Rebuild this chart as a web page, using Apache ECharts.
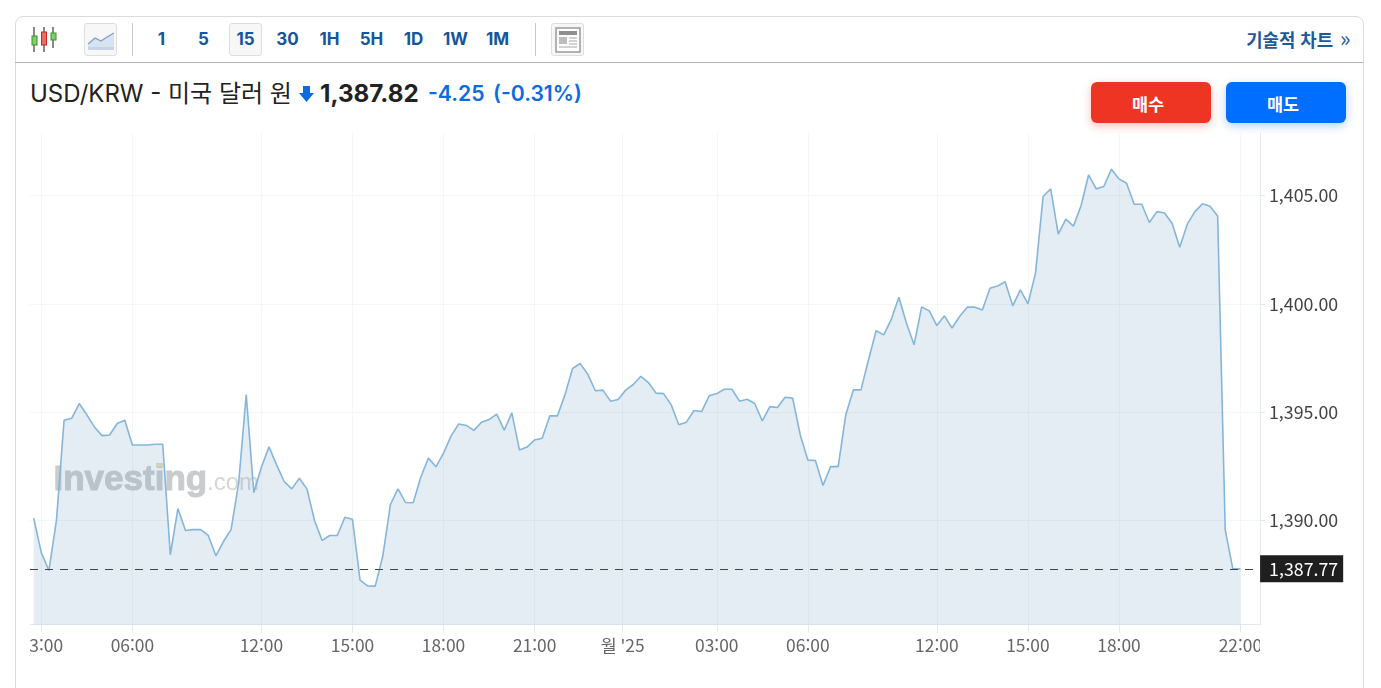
<!DOCTYPE html>
<html lang="ko"><head><meta charset="utf-8">
<script src="https://cdn.jsdelivr.net/npm/echarts@6/dist/echarts.min.js"></script>
<style>
html,body{margin:0;padding:0;background:#fff;width:1381px;height:688px;overflow:hidden;font-family:Inter,"Noto Sans CJK KR",sans-serif}
.abs{position:absolute;white-space:nowrap}
#card{position:absolute;left:15px;top:16px;width:1347px;height:700px;border:1px solid #dcdcdc;border-radius:8px;box-sizing:content-box}
#hline{position:absolute;left:15px;top:62px;width:1348px;height:1px;background:#b4b4b4}
.sep{position:absolute;top:23px;width:1px;height:33px;background:#c8c8c8}
.box{position:absolute;top:23px;height:31px;width:31px;border:1px solid #dedede;border-radius:3px;background:#f7f7f7}
.iv{position:absolute;top:28px;margin-left:-0.5px;font:700 17px/22px Inter,"Noto Sans CJK KR",sans-serif;color:#15569b;text-align:center;width:40px}
.btn{position:absolute;top:82px;width:120px;height:41px;border-radius:6px;color:#fff;font:700 17.5px/43px "Noto Sans CJK KR",sans-serif;text-align:center;text-indent:-6px}
#chart{position:absolute;left:30px;top:125px;width:1314px;height:540px}
#clip{position:absolute;left:1260px;top:630px;width:84px;height:30px;background:#fff}
</style></head><body>
<div id="card"></div><div id="hline"></div>
<svg class="abs" style="left:28px;top:22px" width="32" height="34"><g stroke="#8a8a8a" stroke-width="2"><path d="M6 5V30M16 5V30M25 5V26"/></g><rect x="4" y="14" width="5" height="9" fill="#7fd06a" stroke="#3e8f2e"/><rect x="13.500" y="10" width="5" height="13" fill="#ef6a62" stroke="#c62828"/><rect x="23" y="11" width="5" height="7" fill="#7fd06a" stroke="#3e8f2e"/></svg>
<div class="box" style="left:84px"></div>
<svg class="abs" style="left:87px;top:30px" width="28" height="22"><path d="M1 14L8 8L14 11L20 7L27 3V20H1Z" fill="#d8e3f2"/><path d="M1 14L8 8L14 11L20 7L27 3" fill="none" stroke="#7f9fc6" stroke-width="1.300"/><rect x="1" y="17" width="26" height="3" fill="#c6d3e6"/></svg>
<div class="sep" style="left:132px"></div>
<div class="box" style="left:229px"></div>
<div class="iv" style="left:142px">1</div><div class="iv" style="left:184px">5</div><div class="iv" style="left:226px">15</div><div class="iv" style="left:268px">30</div><div class="iv" style="left:310px">1H</div><div class="iv" style="left:352px">5H</div><div class="iv" style="left:394px">1D</div><div class="iv" style="left:436px">1W</div><div class="iv" style="left:478px">1M</div>
<div class="sep" style="left:535px"></div>
<div class="box" style="left:551px"></div>
<svg class="abs" style="left:555px;top:27px" width="26" height="26"><rect x="1" y="1" width="24" height="24" fill="#fff" stroke="#9a9a9a" stroke-width="1.500"/><rect x="4" y="4" width="18" height="4" fill="#8f8f8f"/><rect x="4" y="10" width="8" height="7" fill="#bdbdbd"/><path d="M14 11H22M14 14H22M14 17H22M4 20H22" stroke="#a8a8a8" stroke-width="1.200"/></svg>
<div class="abs" style="right:48px;top:27px;font:700 17.8px/24px 'Noto Sans CJK KR',sans-serif;color:#1c5a9c">기술적 차트</div>
<div class="abs" style="left:1340px;top:25px;font:400 22px/24px 'Noto Sans CJK KR',sans-serif;color:#1c5a9c">»</div>
<div class="abs" style="left:30px;top:79px;font:400 24px/30px Inter,'Noto Sans CJK KR',sans-serif;color:#222">USD/KRW - 미국 달러 원</div>
<svg class="abs" style="left:298px;top:85px" width="17" height="18"><path d="M5 1H12V8H16L8.500 17L1 8H5Z" fill="#0d6be0"/></svg>
<div class="abs" style="left:320px;top:79px;font:700 24.2px/30px Inter,'Noto Sans CJK KR',sans-serif;color:#222">1,387.82</div>
<div class="abs" style="left:428px;top:78px;font:600 21.2px/30px Inter,'Noto Sans CJK KR',sans-serif;color:#0d6be0">-4.25</div>
<div class="abs" style="left:493px;top:78px;font:600 21.2px/30px Inter,'Noto Sans CJK KR',sans-serif;color:#0d6be0">(-0.31%)</div>
<div class="btn" style="left:1091px;background:#ee3524;box-shadow:0 3px 10px rgba(238,53,36,.3)">매수</div>
<div class="btn" style="left:1226px;background:#006eff;box-shadow:0 3px 10px rgba(0,110,255,.3)">매도</div>
<div id="chart"></div>
<div id="clip"></div>
<script>
const priceValues = [
1390.11,1388.52,1387.69,1390.03,1394.63,1394.72,1395.40,1394.88,1394.32,1393.92,
1393.95,1394.48,1394.63,1393.49,1393.49,1393.49,1393.52,1393.52,1388.42,1390.55,
1389.54,1389.58,1389.58,1389.31,1388.37,1389.03,1389.58,1391.72,1395.82,1391.29,
1392.46,1393.40,1392.57,1391.80,1391.46,1391.95,1391.46,1390.00,1389.08,1389.31,
1389.31,1390.15,1390.06,1387.25,1386.98,1386.97,1388.37,1390.74,1391.46,1390.83,
1390.82,1392.00,1392.88,1392.48,1393.11,1393.91,1394.46,1394.39,1394.16,1394.54,
1394.66,1394.91,1394.17,1394.97,1393.26,1393.39,1393.72,1393.80,1394.83,1394.83,
1395.80,1397.02,1397.25,1396.76,1395.99,1396.02,1395.51,1395.59,1396.02,1396.28,
1396.66,1396.37,1395.88,1395.86,1395.34,1394.42,1394.54,1395.08,1395.03,1395.76,
1395.86,1396.06,1396.06,1395.51,1395.60,1395.40,1394.60,1395.26,1395.22,1395.69,
1395.65,1393.96,1392.79,1392.77,1391.62,1392.49,1392.49,1394.88,1396.03,1396.03,
1397.42,1398.76,1398.57,1399.29,1400.31,1399.11,1398.11,1399.86,1399.68,1399.00,
1399.45,1398.89,1399.42,1399.85,1399.85,1399.72,1400.72,1400.83,1401.02,1399.91,
1400.65,1400.00,1401.42,1404.96,1405.31,1403.22,1403.91,1403.59,1404.53,1405.96,
1405.31,1405.42,1406.22,1405.77,1405.57,1404.60,1404.60,1403.76,1404.26,1404.20,
1403.72,1402.62,1403.68,1404.26,1404.62,1404.51,1404.06,1389.57,1387.77,1387.77];
const tickIndex = [1,13,30,42,54,66,77.6,90,102,119,131,143,159];
const tickLabels = ["03:00","06:00","12:00","15:00","18:00","21:00","월 '25","03:00","06:00","12:00","15:00","18:00","22:00"];
const priceTicks = [1390,1395,1400,1405];
const currentPrice = 1387.77;

const lineData = priceValues.map((v,i)=>[i,v]);
const labelByIndex = new Map(tickIndex.map((t,i)=>[t,tickLabels[i]]));
const axisFont = '"Noto Sans CJK KR","Noto Sans",sans-serif';
const chart = echarts.init(document.getElementById('chart'),null,{renderer:'canvas'});
chart.setOption({
  animation:false,
  grid:{left:0,top:8,width:1230,height:491.500,containLabel:false,outerBoundsMode:'none'},
  xAxis:{type:'value',min:-0.49,max:161.58,
    axisLine:{show:true,onZero:false,lineStyle:{color:'#e3e8ee',width:1}},
    axisTick:{show:true,length:8,lineStyle:{color:'#e3e8ee'},customValues:tickIndex},
    axisLabel:{show:true,color:'#666',fontSize:17.4,fontFamily:axisFont,margin:12,hideOverlap:false,showMinLabel:true,showMaxLabel:true,customValues:tickIndex,formatter:v=>labelByIndex.get(v)||''},
    splitLine:{show:true,lineStyle:{color:'#f5f6f8',width:1}}},
  yAxis:{type:'value',position:'right',min:1385.2,max:1407.89,scale:true,
    axisLine:{show:true,onZero:false,lineStyle:{color:'#e3e8ee',width:1}},
    axisTick:{show:true,length:5,lineStyle:{color:'#e3e8ee'},customValues:priceTicks},
    axisLabel:{show:true,color:'#444',fontSize:17.8,fontFamily:axisFont,margin:9,padding:[4,0,0,0],customValues:priceTicks,formatter:v=>v.toLocaleString('en-US',{minimumFractionDigits:2})},
    splitLine:{show:true,lineStyle:{color:'#f5f6f8',width:1}}},
  graphic:[{type:'group',silent:true,children:[
    {type:'text',left:23,top:337,z:1,style:{text:'Investing',font:'700 35px "Liberation Sans",sans-serif',fill:'#c9cbcc',stroke:'#c9cbcc',lineWidth:1}},
    {type:'rect',left:126,top:338,z:1,shape:{width:7,height:4},style:{fill:'#ecdcb8'}},
    {type:'text',left:177,top:346,z:1,style:{text:'.com',font:'300 24px "Liberation Sans",sans-serif',fill:'#d6d6d6'}}
  ]}],
  series:[{type:'line',data:lineData,showSymbol:false,symbol:'none',smooth:false,z:3,
    lineStyle:{color:'#85b6da',width:1.600},
    areaStyle:{color:'rgba(120,165,200,0.2)',opacity:1},
    markLine:{silent:true,symbol:'none',animation:false,
      lineStyle:{color:'#444',type:[8,7],width:1.200},
      label:{show:true,position:'end',distance:6,formatter:()=>currentPrice.toLocaleString('en-US',{minimumFractionDigits:2}),
        backgroundColor:'#1f1f1f',color:'#fff',fontSize:17.8,fontFamily:axisFont,padding:[4,5,2,9],lineHeight:21},
      data:[[{coord:[-0.49,currentPrice]},{coord:[160.8,currentPrice]}]]}}]
});
</script>
</body></html>
